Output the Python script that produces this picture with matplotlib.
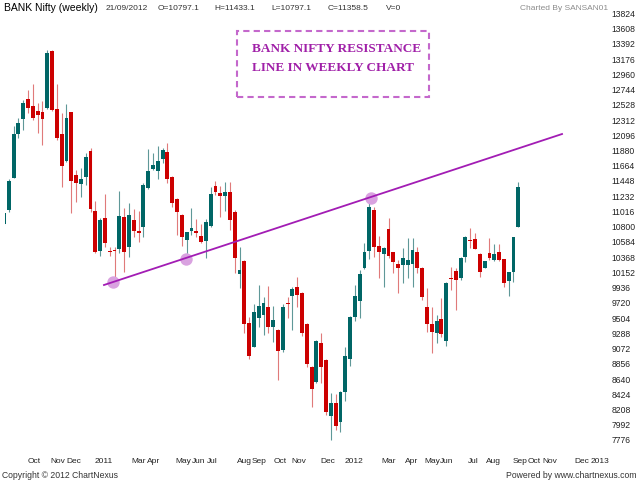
import matplotlib
matplotlib.use("Agg")
import matplotlib.pyplot as plt
from matplotlib.patches import Rectangle

# weekly OHLC, BANK Nifty, Sep 2010 .. 21/09/2012
opens = [10838, 11037, 11495, 12110, 12322, 12606, 12511, 12445, 12426, 12478,
         13287, 12469, 12114, 11731, 12426, 11528, 11405, 11500, 11878, 11027,
         10460, 10923, 10460, 10470, 10479, 10933, 10517, 10895, 10743, 10800,
         11344, 11618, 11594, 11755, 11859, 11509, 11197, 10966, 10611, 10743,
         10743, 10673, 10597, 10810, 11382, 11283, 11240, 11288, 11013, 10125,
         10309, 9430, 9099, 9510, 9548, 9666, 9383, 9335, 9052, 9723,
         9822, 9940, 9855, 9420, 8815, 8603, 9156, 8910, 8120, 8305,
         8026, 8451, 8919, 9515, 9747, 10219, 10456, 11037, 10527, 10408,
         10768, 10437, 10267, 10257, 10257, 10271, 10442, 10219, 9666, 9420,
         9298, 9487, 9179, 10078, 10177, 10078, 10366, 10612, 10621, 10408,
         10219, 10432, 10328, 10437, 10338, 10030, 10153, 10797.1]
highs = [11000, 11472, 12228, 12337, 12597, 12738, 12823, 12549, 12582, 13306,
         13306, 12823, 12407, 12535, 12430, 11604, 11627, 11840, 11911, 11164,
         10918, 11264, 10517, 10517, 11301, 11060, 11131, 11046, 11022, 11424,
         11897, 11850, 11944, 11921, 11982, 11520, 11210, 10980, 10730, 11060,
         10904, 10838, 10904, 11367, 11448, 11377, 11439, 11439, 11037, 10517,
         10330, 9524, 9704, 9974, 9799, 9959, 9676, 9345, 9704, 9808,
         9950, 10092, 9870, 9430, 8830, 9190, 9288, 8920, 8447, 8428,
         8470, 9099, 9530, 9974, 10186, 10564, 11226, 11084, 10668, 10510,
         10919, 10440, 10328, 10503, 10635, 10635, 10508, 10230, 9926, 9666,
         9548, 9784, 10021, 10224, 10210, 10375, 10668, 10777, 10706, 10420,
         10320, 10635, 10550, 10550, 10345, 10160, 10660, 11433.1]
lows = [10830, 11013, 11486, 12053, 12171, 12407, 12313, 12133, 11958, 12470,
        12440, 12029, 11367, 11722, 10989, 11155, 11226, 11391, 11013, 10422,
        10385, 10517, 10385, 10050, 10422, 10158, 10370, 10658, 10587, 10658,
        11340, 11604, 11472, 11698, 11415, 11084, 10682, 10526, 10350, 10682,
        10658, 10564, 10351, 10800, 11249, 10943, 11023, 10754, 10148, 9926,
        9288, 8919, 9090, 9383, 9264, 9298, 9170, 8626, 9028, 9501,
        9335, 9666, 9250, 8815, 8248, 8590, 8579, 8130, 7775, 7917,
        7894, 8333, 8825, 9468, 9501, 10196, 10338, 10375, 10068, 9940,
        10352, 10139, 9855, 9997, 10068, 9940, 10148, 9761, 9312, 9005,
        9156, 9241, 9108, 9903, 9619, 10045, 10304, 10494, 10480, 10082,
        10210, 10328, 10314, 10320, 9950, 9818, 10021, 10797.1]
closes = [10998, 11448, 12110, 12266, 12559, 12478, 12346, 12384, 12332, 13268,
          12455, 12062, 11665, 12346, 11448, 11424, 11481, 11793, 11051, 10446,
          10895, 10573, 10436, 10455, 10952, 10436, 10961, 10743, 10715, 11391,
          11594, 11675, 11731, 11888, 11481, 11141, 11004, 10658, 10720, 10781,
          10706, 10587, 10862, 11264, 11287, 11240, 11288, 10895, 10361, 10186,
          9416, 8971, 9586, 9680, 9714, 9383, 9477, 9042, 9666, 9700,
          9912, 9832, 9298, 8853, 8499, 9179, 8815, 8177, 8305, 7979,
          8461, 8971, 9515, 9818, 10130, 10446, 11075, 10508, 10446, 10503,
          10390, 10304, 10219, 10352, 10328, 10470, 10210, 9808, 9416, 9312,
          9463, 9274, 10007, 10063, 10045, 10352, 10650, 10602, 10484, 10153,
          10314, 10361, 10413, 10328, 9997, 10153, 10650, 11358.5]

# resistance line and touch points (week index, price)
line_x = [20.8, 116.1]
line_y = [9973, 12114]
touch_x = [22.74, 37.86, 76.35]
touch_y = [10012, 10338, 11207]

month_pos = [6.3, 11.2, 14.6, 20.7, 28.1, 31.2, 37.4, 40.4, 43.3, 50.1, 53.0,
             57.4, 61.4, 67.4, 72.8, 80.1, 84.9, 89.2, 92.2, 97.6, 101.9,
             107.3, 110.3, 113.6, 120.2, 124.0]
month_lbl = ["Oct", "Nov", "Dec", "2011", "Mar", "Apr", "May", "Jun", "Jul",
             "Aug", "Sep", "Oct", "Nov", "Dec", "2012", "Mar", "Apr", "May",
             "Jun", "Jul", "Aug", "Sep", "Oct", "Nov", "Dec", "2013"]
price_ticks = list(range(7776, 13825, 216))

plt.rcParams['font.family'] = ['Liberation Sans', 'DejaVu Sans']

fig = plt.figure(figsize=(6.4, 4.8), dpi=100)
ax = fig.add_axes([5.3 / 640, 1 - 452 / 480, (600 - 5.3) / 640, 450 / 480])

up_col, dn_col = '#006666', '#cc0000'
for i in range(len(opens)):
    o, h, l, c = opens[i], highs[i], lows[i], closes[i]
    up = c >= o
    ax.vlines(i, l, h, color='#5f9898' if up else '#e07a7a', lw=0.8, zorder=2)
    ax.bar(i, max(abs(c - o), 12), bottom=min(o, c), width=0.8,
           color=up_col if up else dn_col, lw=0, zorder=3)

ax.scatter(touch_x, touch_y, s=80, color='#d9a2e0', lw=0, zorder=4)
ax.plot(line_x, line_y, color='#a21cb4', lw=1.3, zorder=5)

ax.set_xlim(0.27, 124.0)
ax.set_ylim(7605, 13986)
ax.yaxis.tick_right()
ax.set_yticks(price_ticks)
ax.set_yticklabels([str(t) for t in price_ticks], fontsize=6.2, color='#222222')
ax.set_xticks(month_pos)
ax.set_xticklabels(month_lbl, fontsize=6, color='#222222')
ax.tick_params(length=0)
ax.tick_params(axis='y', pad=8.5)
ax.tick_params(axis='x', pad=4)
for s in ax.spines.values():
    s.set_visible(False)
for t in ax.get_xticklabels():
    t.set_clip_on(False)

# header
fig.text(4 / 640, 1 - 8 / 480, "BANK Nifty (weekly)", fontsize=7.5, va='center')
hdr = [(106, "21/09/2012"), (158, "O=10797.1"), (214, "H=11433.1"),
       (271, "L=10797.1"), (328, "C=11358.5"), (386, "V=0")]
for xp, s in hdr:
    fig.text(xp / 640, 1 - 8 / 480, s, fontsize=6, va='center', color='#333333')
fig.text(520 / 640, 1 - 8 / 480, "Charted By SANSAN01", fontsize=6,
         va='center', color='#8c8c8c')

# annotation box
fig.patches.append(Rectangle((237 / 640, 1 - 97 / 480), 192 / 640, 66 / 480,
                             transform=fig.transFigure, fill=False,
                             edgecolor='#c468cc', lw=1.5, ls=(0, (3, 2))))
fig.text(252 / 640, 1 - 52 / 480, "BANK NIFTY RESISTANCE", fontsize=9.5,
         family='Liberation Serif', weight='bold', color='#a020a8', va='baseline')
fig.text(252 / 640, 1 - 71 / 480, "LINE IN WEEKLY CHART", fontsize=9.5,
         family='Liberation Serif', weight='bold', color='#a020a8', va='baseline')

# footer
fig.text(2 / 640, 1 - 475 / 480, "Copyright © 2012 ChartNexus", fontsize=6.2,
         va='center', color='#333333')
fig.text(637 / 640, 1 - 475 / 480, "Powered by www.chartnexus.com", fontsize=6.2,
         va='center', ha='right', color='#333333')

fig.savefig("out.png", dpi=100)
